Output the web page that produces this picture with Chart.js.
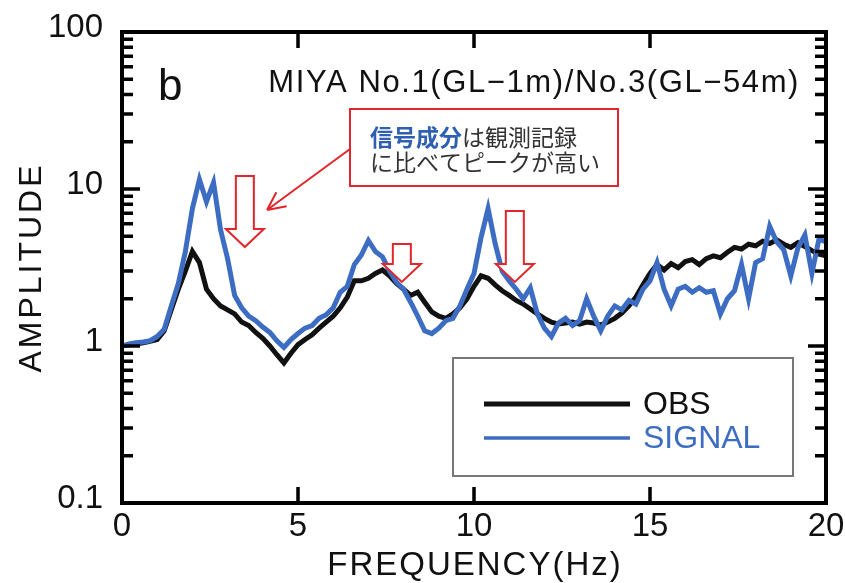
<!DOCTYPE html>
<html>
<head>
<meta charset="utf-8">
<script src="https://cdn.jsdelivr.net/npm/chart.js@4.4.1/dist/chart.umd.min.js"></script>
<style>
  html, body { margin: 0; padding: 0; background: #fff; }
  #wrap { width: 845px; height: 583px; }
</style>
</head>
<body>
<div id="wrap"><canvas id="chart" width="845" height="583"></canvas></div>
<script>
// frequency axis (Hz), 0.2 Hz steps
const frequencies = [
  0, 0.2, 0.4, 0.6, 0.8, 1, 1.2, 1.4, 1.6, 1.8,
  2, 2.2, 2.4, 2.6, 2.8, 3, 3.2, 3.4, 3.6, 3.8,
  4, 4.2, 4.4, 4.6, 4.8, 5, 5.2, 5.4, 5.6, 5.8,
  6, 6.2, 6.4, 6.6, 6.8, 7, 7.2, 7.4, 7.6, 7.8,
  8, 8.2, 8.4, 8.6, 8.8, 9, 9.2, 9.4, 9.6, 9.8,
  10, 10.2, 10.4, 10.6, 10.8, 11, 11.2, 11.4, 11.6, 11.8,
  12, 12.2, 12.4, 12.6, 12.8, 13, 13.2, 13.4, 13.6, 13.8,
  14, 14.2, 14.4, 14.6, 14.8, 15, 15.2, 15.4, 15.6, 15.8,
  16, 16.2, 16.4, 16.6, 16.8, 17, 17.2, 17.4, 17.6, 17.8,
  18, 18.2, 18.4, 18.6, 18.8, 19, 19.2, 19.4, 19.6, 19.8,
  20
];

const obsAmplitude = [
  1.00, 1.02, 1.03, 1.05, 1.07, 1.10, 1.25, 1.70, 2.30, 3.00,
  4.00, 3.40, 2.30, 2.00, 1.80, 1.70, 1.60, 1.42, 1.35, 1.22,
  1.12, 1.00, 0.88, 0.78, 0.90, 1.02, 1.10, 1.18, 1.30, 1.42,
  1.55, 1.75, 2.05, 2.60, 2.60, 2.70, 2.90, 3.05, 2.80, 2.50,
  2.30, 2.10, 2.20, 1.90, 1.65, 1.55, 1.50, 1.60, 1.75, 2.00,
  2.40, 2.80, 2.70, 2.45, 2.25, 2.10, 1.95, 1.85, 1.72, 1.60,
  1.50, 1.42, 1.38, 1.40, 1.42, 1.38, 1.42, 1.40, 1.36, 1.42,
  1.50, 1.62, 1.80, 2.05, 2.45, 2.90, 3.30, 3.05, 3.35, 3.15,
  3.45, 3.55, 3.30, 3.60, 3.75, 3.65, 3.95, 4.25, 4.15, 4.45,
  4.35, 4.65, 4.50, 4.75, 4.45, 4.25, 4.55, 4.30, 4.05, 3.85,
  3.75
];

const signalAmplitude = [
  1.00, 1.03, 1.05, 1.06, 1.08, 1.15, 1.28, 1.80, 2.50, 4.00,
  7.50, 11.5, 8.30, 11.0, 5.50, 3.60, 2.10, 1.75, 1.55, 1.45,
  1.32, 1.22, 1.08, 0.98, 1.10, 1.20, 1.30, 1.35, 1.50, 1.58,
  1.75, 2.20, 2.40, 3.30, 3.80, 4.70, 4.00, 3.70, 3.00, 2.55,
  2.30, 1.90, 1.55, 1.25, 1.20, 1.30, 1.45, 1.50, 1.80, 2.30,
  2.90, 4.90, 7.50, 4.50, 3.00, 2.60, 2.30, 2.00, 2.35, 1.60,
  1.30, 1.15, 1.40, 1.50, 1.35, 1.45, 2.00, 1.55, 1.25, 1.55,
  1.80, 1.70, 1.95, 1.85, 2.30, 2.60, 3.40, 2.30, 1.80, 2.30,
  2.40, 2.20, 2.35, 2.20, 2.25, 1.60, 2.00, 2.25, 3.30, 2.00,
  3.40, 3.60, 5.80, 4.60, 4.10, 2.80, 4.20, 5.10, 2.90, 4.80,
  4.60
];

const seriesLabels = ["OBS", "SIGNAL"];
const xTickValues = [0, 5, 10, 15, 20];
const yTickValues = [0.1, 1, 10, 100];
const xTitle = "FREQUENCY(Hz)";
const yTitle = "AMPLITUDE";
const panelLabel = "b";
const stationLabel = "MIYA No.1(GL\u22121m)/No.3(GL\u221254m)";
const noteBlue = "信号成分";
const noteRest = "は観測記録";
const noteLine2 = "に比べてピークが高い";

const BLUE = "#3d6dc2";
const RED = "#e3262b";
const FONT = "'Liberation Sans', Arial, sans-serif";

// hollow down-arrows above the peaks: tip and top in data units
const peakArrows = [
  { freq: 3.49, top: 12.1, tip: 4.27 },
  { freq: 7.95, top: 4.46, tip: 2.56 },
  { freq: 11.16, top: 7.24, tip: 2.56 }
];
const calloutTip = { freq: 4.12, amp: 7.35 };

function downArrow(ctx, cx, yTop, yTip) {
  const shaft = 9, head = 19, headLen = 18;
  const yBase = yTip - headLen;
  ctx.beginPath();
  ctx.moveTo(cx - shaft, yTop);
  ctx.lineTo(cx + shaft, yTop);
  ctx.lineTo(cx + shaft, yBase);
  ctx.lineTo(cx + head, yBase);
  ctx.lineTo(cx, yTip);
  ctx.lineTo(cx - head, yBase);
  ctx.lineTo(cx - shaft, yBase);
  ctx.closePath();
  ctx.fillStyle = "#fff";
  ctx.fill();
  ctx.stroke();
}

const framePlugin = {
  id: "frame",
  afterDatasetsDraw(chart) {
    const { ctx, chartArea: a, scales: { x, y } } = chart;
    ctx.save();
    ctx.strokeStyle = "#000";
    ctx.lineWidth = 4;
    ctx.strokeRect(a.left, a.top, a.right - a.left, a.bottom - a.top);

    // minor / major ticks on the log axis, both sides, pointing in
    ctx.lineWidth = 3.5;
    ctx.beginPath();
    [0.1, 1, 10].forEach(d => {
      for (let k = 1; k <= 9; k++) {
        const v = k * d;
        if (k === 1 && d === 0.1) continue;
        const py = y.getPixelForValue(v);
        const len = k === 1 ? 18 : 11;
        ctx.moveTo(a.left, py); ctx.lineTo(a.left + len, py);
        ctx.moveTo(a.right, py); ctx.lineTo(a.right - len, py);
      }
    });
    xTickValues.slice(1, -1).forEach(v => {
      const px = x.getPixelForValue(v);
      ctx.moveTo(px, a.bottom); ctx.lineTo(px, a.bottom - 16);
      ctx.moveTo(px, a.top); ctx.lineTo(px, a.top + 16);
    });
    ctx.stroke();
    ctx.restore();
  },
  afterDraw(chart) {
    const { ctx, chartArea: a, scales: { x, y } } = chart;
    ctx.save();

    // axis titles (drawn here so the wide tracking of the original can be kept)
    ctx.fillStyle = "#111";
    ctx.textAlign = "center";
    ctx.textBaseline = "middle";
    ctx.font = "33px " + FONT;
    ctx.letterSpacing = "2px";
    ctx.fillText(xTitle, (a.left + a.right) / 2 + 1, 566);
    ctx.save();
    ctx.translate(32, (a.top + a.bottom) / 2);
    ctx.rotate(-Math.PI / 2);
    ctx.font = "32px " + FONT;
    ctx.letterSpacing = "3px";
    ctx.fillText(yTitle, 0, 0);
    ctx.restore();

    // panel letter and station name
    ctx.textAlign = "left";
    ctx.textBaseline = "alphabetic";
    ctx.letterSpacing = "0px";
    ctx.font = "44px " + FONT;
    ctx.fillText(panelLabel, a.left + 36, a.top + 68);
    ctx.font = "31px " + FONT;
    ctx.letterSpacing = "1.6px";
    ctx.textAlign = "right";
    ctx.fillText(stationLabel, a.right - 26, a.top + 60);
    ctx.letterSpacing = "0px";
    ctx.textAlign = "left";

    // legend box
    const lx = 453, ly = 358, lw = 340, lh = 118;
    ctx.strokeStyle = "#777";
    ctx.lineWidth = 2;
    ctx.strokeRect(lx, ly, lw, lh);
    const ds = chart.data.datasets;
    const rows = [ly + 46, ly + 80];
    ds.forEach((d, i) => {
      ctx.strokeStyle = d.borderColor;
      ctx.lineWidth = i === 0 ? 5 : 3.5;
      ctx.beginPath();
      ctx.moveTo(lx + 31, rows[i]);
      ctx.lineTo(lx + 177, rows[i]);
      ctx.stroke();
      ctx.fillStyle = i === 0 ? "#111" : BLUE;
      ctx.font = "32px " + FONT;
      ctx.textBaseline = "middle";
      ctx.fillText(d.label, lx + 190, rows[i] + 1);
    });

    // hollow red arrows
    ctx.strokeStyle = RED;
    ctx.lineWidth = 2;
    peakArrows.forEach(p => {
      downArrow(ctx, x.getPixelForValue(p.freq), y.getPixelForValue(p.top), y.getPixelForValue(p.tip));
    });

    // callout box with note
    const bx = 350, by = 109, bw = 268, bh = 77;
    ctx.fillStyle = "#fff";
    ctx.fillRect(bx, by, bw, bh);
    ctx.strokeRect(bx, by, bw, bh);
    const tx = x.getPixelForValue(calloutTip.freq), ty = y.getPixelForValue(calloutTip.amp);
    const sx = bx, sy = by + 40;
    ctx.beginPath();
    ctx.moveTo(sx, sy);
    ctx.lineTo(tx, ty);
    const ang = Math.atan2(sy - ty, sx - tx);
    [0.45, -0.45].forEach(da => {
      ctx.moveTo(tx, ty);
      ctx.lineTo(tx + 20 * Math.cos(ang + da), ty + 20 * Math.sin(ang + da));
    });
    ctx.stroke();

    const cjk = "'Noto Sans CJK JP', sans-serif";
    ctx.textBaseline = "middle";
    ctx.font = "bold 23px " + cjk;
    ctx.fillStyle = "#2f5fb3";
    ctx.fillText(noteBlue, bx + 20, by + 28);
    const wBlue = ctx.measureText(noteBlue).width;
    ctx.font = "23px " + cjk;
    ctx.fillStyle = "#333";
    ctx.fillText(noteRest, bx + 20 + wBlue, by + 28);
    ctx.fillText(noteLine2, bx + 20, by + 53);

    ctx.restore();
  }
};

new Chart(document.getElementById("chart"), {
  type: "line",
  data: {
    datasets: [
      {
        label: seriesLabels[0],
        data: frequencies.map((f, i) => ({ x: f, y: obsAmplitude[i] })),
        borderColor: "#111",
        borderWidth: 5,
        order: 1
      },
      {
        label: seriesLabels[1],
        data: frequencies.map((f, i) => ({ x: f, y: signalAmplitude[i] })),
        borderColor: BLUE,
        borderWidth: 5,
        order: 0
      }
    ]
  },
  options: {
    responsive: false,
    animation: false,
    devicePixelRatio: 1,
    layout: { padding: { top: 32, right: 19, left: 0, bottom: 0 } },
    elements: {
      point: { radius: 0 },
      line: { tension: 0, borderJoinStyle: "miter", borderCapStyle: "butt" }
    },
    plugins: { legend: { display: false }, tooltip: { enabled: false } },
    scales: {
      x: {
        type: "linear",
        min: 0,
        max: 20,
        afterBuildTicks: s => { s.ticks = xTickValues.map(v => ({ value: v })); },
        afterFit: s => { s.height = 80; s.paddingLeft = 0; s.paddingRight = 0; },
        grid: { display: false, drawTicks: false },
        border: { display: false },
        ticks: { color: "#111", padding: 4, font: { family: FONT, size: 33 } }
      },
      y: {
        type: "logarithmic",
        min: 0.1,
        max: 100,
        afterBuildTicks: s => { s.ticks = yTickValues.map(v => ({ value: v })); },
        afterFit: s => { s.width = 122; s.paddingTop = 0; s.paddingBottom = 0; },
        grid: { display: false, drawTicks: false },
        border: { display: false },
        ticks: {
          color: "#111",
          padding: 19,
          labelOffset: -4,
          font: { family: FONT, size: 33 },
          callback: v => String(v)
        }
      }
    }
  },
  plugins: [framePlugin]
});
</script>
</body>
</html>
